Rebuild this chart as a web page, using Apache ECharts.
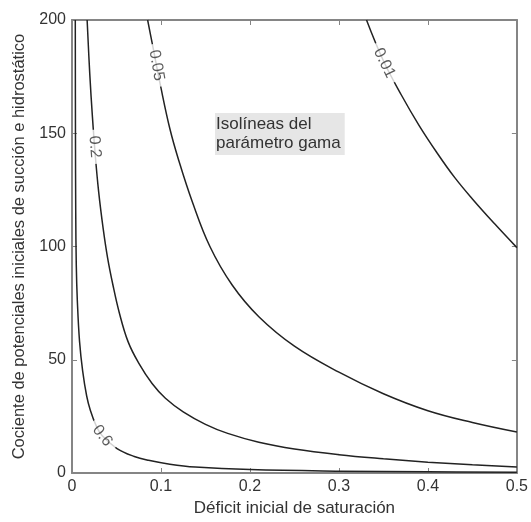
<!DOCTYPE html>
<html>
<head>
<meta charset="utf-8">
<script src="https://cdn.jsdelivr.net/npm/echarts@6/dist/echarts.min.js"></script>
<style>
html,body{margin:0;padding:0;background:#fff;}
#chart{width:531px;height:522px;}
</style>
</head>
<body>
<div id="chart"></div>
<script>
// isolineas del parametro gama
var gammaLevels = ['0.01', '0.05', '0.2', '0.6'];
var curve001 = [[0.331,200],[0.35,182],[0.37,167],[0.39,153.5],[0.41,141.5],[0.43,130.5],[0.45,121],[0.475,110],[0.5,99.5]];
var curve005 = [[0.085,200],[0.09,190],[0.10,170],[0.11,152],[0.12,138],[0.135,120],[0.155,100],[0.18,83],[0.21,69],[0.25,56],[0.3,44.5],[0.35,35],[0.4,27.5],[0.45,22.3],[0.5,18.1]];
var curve02 = [[0.017,200],[0.020,176],[0.023,157],[0.026,141],[0.030,124],[0.035,108],[0.040,95],[0.046,83],[0.053,71],[0.063,58],[0.075,48.5],[0.09,39.5],[0.105,33],[0.125,27],[0.15,21.5],[0.175,17.5],[0.21,13.6],[0.25,10.6],[0.3,8.1],[0.35,6.3],[0.4,4.8],[0.45,3.6],[0.5,2.6]];
var curve06 = [[0.0037,200],[0.0039,150],[0.0042,115],[0.0048,92],[0.006,76],[0.0085,58],[0.012,45],[0.0165,34],[0.0206,27.7],[0.027,21],[0.034,16.4],[0.0506,10.8],[0.07,7.3],[0.086,5.6],[0.11,3.9],[0.1385,2.65],[0.2,1.5],[0.3,0.8],[0.4,0.5],[0.5,0.3]];
var curves = [curve001, curve005, curve02, curve06];
// donde va cada etiqueta sobre su linea
var labelPos = [[0.351,181],[0.095,180],[0.0255,144],[0.034,16.4]];
var labelRot = [-64, -80, -86, -52];
var xTicks = ['0', '0.1', '0.2', '0.3', '0.4', '0.5'];
var yTicks = ['0', '50', '100', '150', '200'];

var chart = echarts.init(document.getElementById('chart'));
var font = 'Liberation Sans';
var frameColor = '#858585';
var lineColor = '#222';

function axisBase(pos, showLabel, ticks, step){
	return {
		type: 'value',
		position: pos,
		min: 0,
		max: parseFloat(ticks[ticks.length-1]),
		interval: step,
		axisLine: {show: true, onZero: false, lineStyle: {color: frameColor, width: 2}},
		axisTick: {show: true, inside: true, length: 5, lineStyle: {color: frameColor, width: 1}},
		splitLine: {show: false},
		axisLabel: {
			show: showLabel,
			margin: 6,
			color: '#333',
			fontFamily: font,
			fontSize: 16,
			formatter: function(v){ return ticks[Math.round(v/step)]; }
		}
	};
}

var xBottom = axisBase('bottom', true, xTicks, 0.1);
xBottom.name = 'Déficit inicial de saturación';
xBottom.nameLocation = 'middle';
xBottom.nameGap = 25;
xBottom.nameTextStyle = {color: '#333', fontFamily: font, fontSize: 17};
var xTop = axisBase('top', false, xTicks, 0.1);

var yLeft = axisBase('left', true, yTicks, 50);
yLeft.name = 'Cociente de potenciales iniciales de succión e hidrostático';
yLeft.nameLocation = 'middle';
yLeft.nameGap = 42;
yLeft.nameTextStyle = {color: '#333', fontFamily: font, fontSize: 16.5};
var yRight = axisBase('right', false, yTicks, 50);

var series = [];
for (var i = 0; i < curves.length; i++) {
	series.push({
		name: gammaLevels[i],
		type: 'line',
		data: curves[i],
		showSymbol: false,
		smooth: 0.4,
		lineStyle: {color: lineColor, width: 1.5},
		silent: true,
		z: 2
	});
}
// etiquetas de las isolineas (fondo blanco para cortar la linea)
series.push({
	type: 'scatter',
	symbolSize: 1,
	itemStyle: {color: 'rgba(0,0,0,0)'},
	silent: true,
	z: 5,
	data: labelPos.map(function(p, k){
		return {
			value: p,
			label: {
				show: true,
				position: 'inside',
				formatter: gammaLevels[k],
				rotate: labelRot[k],
				color: '#333',
				fontFamily: font,
				fontSize: 16,
				backgroundColor: '#fff',
				padding: [0, 6]
			}
		};
	})
});

var option = {
	animation: false,
	backgroundColor: '#fff',
	grid: {left: 72, right: 14, top: 20, bottom: 49},
	xAxis: [xBottom, xTop],
	yAxis: [yLeft, yRight],
	graphic: [{
		type: 'text',
		left: 215,
		top: 113,
		style: {
			text: 'Isolíneas del\nparámetro gama',
			font: '17px "Liberation Sans"',
			fill: '#333',
			lineHeight: 19,
			backgroundColor: '#e6e6e6',
			padding: [2, 4, 2, 1]
		}
	}],
	series: series
};
chart.setOption(option);
</script>
</body>
</html>
